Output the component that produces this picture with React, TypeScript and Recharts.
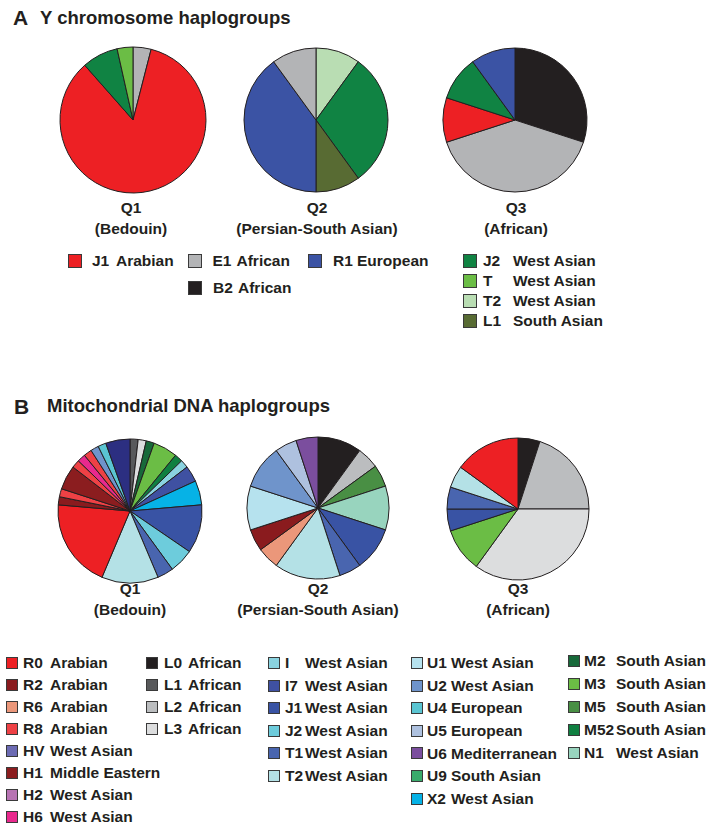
import { PieChart, Pie, Cell } from 'recharts';

const INK = '#231F20';
const FONT = '"Liberation Sans", Arial, Helvetica, sans-serif';

// slices run clockwise from 12 o'clock
const yQ1 = [
  { name: 'E1', value: 4 },
  { name: 'J1', value: 84.5 },
  { name: 'J2', value: 8 },
  { name: 'T', value: 3.5 },
];
const yQ2 = [
  { name: 'T2', value: 10 },
  { name: 'J2', value: 30 },
  { name: 'L1', value: 10 },
  { name: 'R1', value: 40 },
  { name: 'E1', value: 10 },
];
const yQ3 = [
  { name: 'B2', value: 30 },
  { name: 'E1', value: 40 },
  { name: 'J1', value: 10 },
  { name: 'J2', value: 10 },
  { name: 'R1', value: 10 },
];

const mtQ1 = [
  { name: 'L1', value: 1 }, { name: 'L3', value: 1 }, { name: 'M2', value: 1 },
  { name: 'M3', value: 3 }, { name: 'M52', value: 1 }, { name: 'I', value: 1 },
  { name: 'I7', value: 2 }, { name: 'X2', value: 3 }, { name: 'J1', value: 6 },
  { name: 'J2', value: 3 }, { name: 'T1', value: 2 }, { name: 'T2', value: 7 },
  { name: 'R0', value: 11 }, { name: 'R2', value: 1 }, { name: 'R8', value: 1 },
  { name: 'H1', value: 3 }, { name: 'R8', value: 1 }, { name: 'H6', value: 1 },
  { name: 'R8', value: 1 }, { name: 'U2', value: 1 }, { name: 'U4', value: 1 },
  { name: 'H', value: 3 },
];
const mtQ2 = [
  { name: 'L0', value: 2 }, { name: 'L2', value: 1 }, { name: 'M5', value: 1 },
  { name: 'N1', value: 2 }, { name: 'J1', value: 2 }, { name: 'T1', value: 1 },
  { name: 'T2', value: 3 }, { name: 'R6', value: 1 }, { name: 'R2', value: 1 },
  { name: 'U1', value: 2 }, { name: 'U2', value: 2 }, { name: 'U5', value: 1 },
  { name: 'U6', value: 1 },
];
const mtQ3 = [
  { name: 'L0', value: 1 }, { name: 'L2', value: 4 }, { name: 'L3', value: 7 },
  { name: 'M3', value: 2 }, { name: 'J1', value: 1 }, { name: 'T1', value: 1 },
  { name: 'T2', value: 1 }, { name: 'R0', value: 3 },
];

const yColors: Record<string, string> = {
  J1: '#ED2024', E1: '#B3B4B6', R1: '#3B53A4', B2: '#231F20',
  J2: '#108343', T: '#6BBD45', T2: '#B9DDB3', L1: '#586B33',
};

const mtColors: Record<string, string> = {
  R0: '#ED2024', R2: '#8A1B1E', R6: '#EB977A', R8: '#EE4145',
  HV: '#6C6BB3', H1: '#8B1D1F', H2: '#B773B3', H6: '#E8298D', H: '#2C2F81',
  L0: '#231F20', L1: '#58595B', L2: '#BBBDBF', L3: '#DCDDDE',
  I: '#8AD3E0', I7: '#3F51A2', J1: '#3953A4', J2: '#6DCCDC', T1: '#4965AF', T2: '#B4E1E6',
  U1: '#B6E2EE', U2: '#6F94CB', U4: '#5AC5D2', U5: '#AEC1DF', U6: '#7B4E9E', U9: '#3AAA6B',
  X2: '#06B2E6', M2: '#17693A', M3: '#6BBD45', M5: '#498F44', M52: '#0F7F41', N1: '#98D4BE',
};

const yLegendRow = [['J1', 'Arabian'], ['E1', 'African'], ['R1', 'European']];
const yLegendRow2 = [['B2', 'African']];
const yLegendRight = [['J2', 'West Asian'], ['T', 'West Asian'], ['T2', 'West Asian'], ['L1', 'South Asian']];

const mtLegendCols = [
  [['R0', 'Arabian'], ['R2', 'Arabian'], ['R6', 'Arabian'], ['R8', 'Arabian'],
   ['HV', 'West Asian'], ['H1', 'Middle Eastern'], ['H2', 'West Asian'], ['H6', 'West Asian']],
  [['L0', 'African'], ['L1', 'African'], ['L2', 'African'], ['L3', 'African']],
  [['I', 'West Asian'], ['I7', 'West Asian'], ['J1', 'West Asian'], ['J2', 'West Asian'],
   ['T1', 'West Asian'], ['T2', 'West Asian']],
  [['U1', 'West Asian'], ['U2', 'West Asian'], ['U4', 'European'], ['U5', 'European'],
   ['U6', 'Mediterranean'], ['U9', 'South Asian'], ['X2', 'West Asian']],
  [['M2', 'South Asian'], ['M3', 'South Asian'], ['M5', 'South Asian'],
   ['M52', 'South Asian'], ['N1', 'West Asian']],
];
const mtColLayout = [
  { sq: 6, code: 23, desc: 50, y0: 663, step: 22 },
  { sq: 146, code: 164, desc: 188, y0: 663, step: 22 },
  { sq: 268, code: 285, desc: 305, y0: 663, step: 22.5 },
  { sq: 411, code: 427, desc: 451, y0: 663, step: 22.6 },
  { sq: 568, code: 584, desc: 616, y0: 661, step: 23 },
];

const pies = [
  { data: yQ1, colors: yColors, cx: 133, cy: 120, r: 73 },
  { data: yQ2, colors: yColors, cx: 316, cy: 120, r: 72 },
  { data: yQ3, colors: yColors, cx: 515, cy: 120, r: 72 },
  { data: mtQ1, colors: mtColors, cx: 130, cy: 511, r: 72 },
  { data: mtQ2, colors: mtColors, cx: 318, cy: 508, r: 71 },
  { data: mtQ3, colors: mtColors, cx: 518, cy: 509, r: 71 },
];

const pieLabels = [
  { x: 131, y: 208, a: 'Q1', b: '(Bedouin)' },
  { x: 317, y: 208, a: 'Q2', b: '(Persian-South Asian)' },
  { x: 516, y: 208, a: 'Q3', b: '(African)' },
  { x: 130, y: 589, a: 'Q1', b: '(Bedouin)' },
  { x: 318, y: 589, a: 'Q2', b: '(Persian-South Asian)' },
  { x: 518, y: 589, a: 'Q3', b: '(African)' },
];

const Txt = ({ x, y, size, center, children }: { x: number; y: number; size: number; center?: boolean; children: any }) => (
  <div
    style={{
      position: 'absolute',
      left: x,
      top: y - size * 0.5,
      fontSize: size,
      lineHeight: 1,
      fontWeight: 700,
      color: INK,
      whiteSpace: 'nowrap',
      transform: center ? 'translateX(-50%)' : undefined,
    }}
  >
    {children}
  </div>
);

const Square = ({ x, y, size, color }: { x: number; y: number; size: number; color: string }) => (
  <div
    style={{
      position: 'absolute',
      left: x,
      top: y - size / 2,
      width: size,
      height: size,
      boxSizing: 'border-box',
      background: color,
      border: '1px solid #3a3a3a',
    }}
  />
);

const LegendItem = ({ sq, code, desc, y, name, label, color, size }: any) => (
  <>
    <Square x={sq} y={y} size={size} color={color} />
    <Txt x={code} y={y} size={15.5}>{name}</Txt>
    <Txt x={desc} y={y} size={15.5}>{label}</Txt>
  </>
);

const App = () => {
  return (
    <div
      style={{
        position: 'absolute',
        left: 0,
        top: 0,
        width: 710,
        height: 824,
        background: '#fff',
        fontFamily: FONT,
        overflow: 'hidden',
      }}
    >
      <PieChart width={710} height={824} margin={{ top: 0, right: 0, bottom: 0, left: 0 }}>
        {pies.map((p, i) => (
          <Pie
            key={i}
            data={p.data}
            dataKey="value"
            nameKey="name"
            cx={p.cx}
            cy={p.cy}
            outerRadius={p.r}
            startAngle={90}
            endAngle={-270}
            stroke={INK}
            strokeWidth={1}
            isAnimationActive={false}
          >
            {p.data.map((d, j) => (
              <Cell key={j} fill={p.colors[d.name]} />
            ))}
          </Pie>
        ))}
      </PieChart>

      <Txt x={13} y={17} size={21}>A</Txt>
      <Txt x={40} y={18} size={18.5}>Y chromosome haplogroups</Txt>
      <Txt x={14} y={406} size={21}>B</Txt>
      <Txt x={47} y={406} size={18.5}>Mitochondrial DNA haplogroups</Txt>

      {pieLabels.map((l, i) => (
        <div key={i}>
          <Txt x={l.x} y={l.y} size={15.5} center>{l.a}</Txt>
          <Txt x={l.x} y={l.y + 21} size={15.5} center>{l.b}</Txt>
        </div>
      ))}

      {yLegendRow.map(([n, d], i) => (
        <LegendItem
          key={n}
          sq={68 + i * 120}
          code={92 + i * 120.5}
          desc={116 + i * 120.5}
          y={261}
          name={n}
          label={d}
          color={yColors[n]}
          size={14}
        />
      ))}
      {yLegendRow2.map(([n, d]) => (
        <LegendItem key={n} sq={188} code={213} desc={238} y={288} name={n} label={d} color={yColors[n]} size={14} />
      ))}
      {yLegendRight.map(([n, d], i) => (
        <LegendItem key={n} sq={463} code={483} desc={513} y={261 + i * 20} name={n} label={d} color={yColors[n]} size={14} />
      ))}

      {mtLegendCols.map((col, c) =>
        col.map(([n, d], i) => (
          <LegendItem
            key={`${c}-${n}`}
            sq={mtColLayout[c].sq}
            code={mtColLayout[c].code}
            desc={mtColLayout[c].desc}
            y={mtColLayout[c].y0 + i * mtColLayout[c].step}
            name={n}
            label={d}
            color={mtColors[n]}
            size={12}
          />
        ))
      )}
    </div>
  );
};

export default App;
